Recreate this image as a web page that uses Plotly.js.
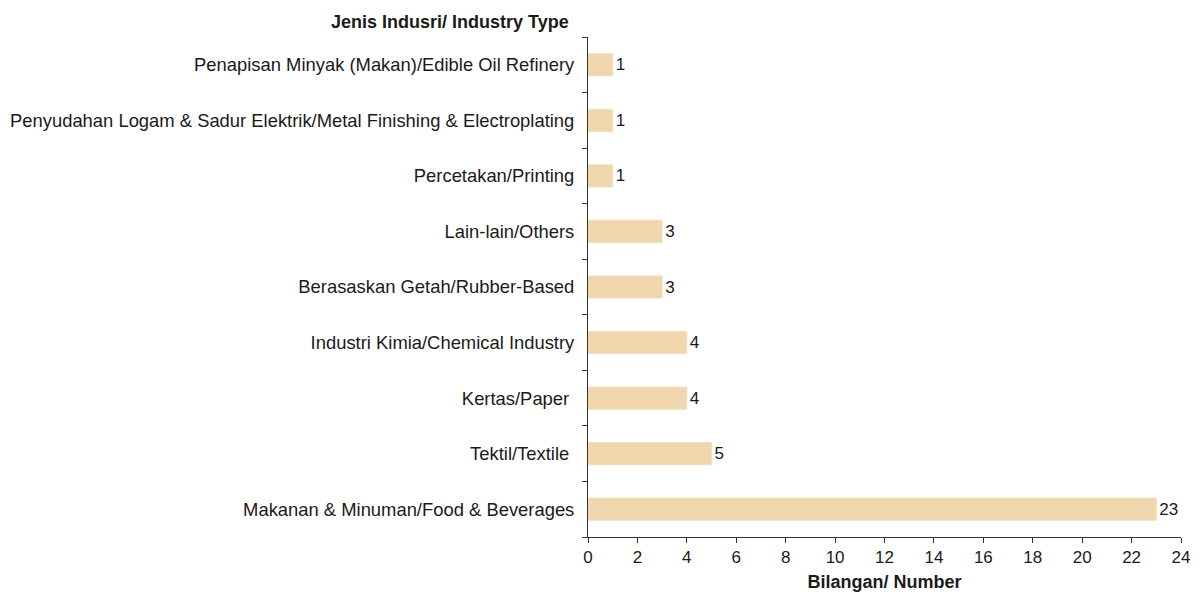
<!DOCTYPE html>
<html>
<head>
<meta charset="utf-8">
<script src="https://cdn.plot.ly/plotly-3.0.1.min.js"></script>
<style>
  html, body { margin: 0; padding: 0; background: #fff; }
  #chart { width: 1199px; height: 592px; }
</style>
</head>
<body>
<div id="chart"></div>
<script>
// categories, bottom to top
var industries = [
    'Makanan & Minuman/Food & Beverages',
    'Tektil/Textile\u00a0',
    'Kertas/Paper\u00a0',
    'Industri Kimia/Chemical Industry',
    'Berasaskan Getah/Rubber-Based',
    'Lain-lain/Others',
    'Percetakan/Printing',
    'Penyudahan Logam & Sadur Elektrik/Metal Finishing & Electroplating',
    'Penapisan Minyak (Makan)/Edible Oil Refinery'
];
var counts = [23, 5, 4, 4, 3, 3, 1, 1, 1];
var xTicks = [0, 2, 4, 6, 8, 10, 12, 14, 16, 18, 20, 22, 24];

var font = 'Liberation Sans, Arial, Helvetica, sans-serif';

var bars = {
    type: 'bar',
    orientation: 'h',
    x: counts,
    y: industries,
    width: 0.4,
    marker: {
        color: '#EFD6AC',
        line: { color: '#F3DFBF', width: 1 }
    },
    text: counts.map(String),
    textposition: 'outside',
    cliponaxis: false,
    textfont: { family: font, size: 17, color: '#1a1a1a' },
    hoverinfo: 'x+y'
};

var layout = {
    width: 1199,
    height: 592,
    margin: { l: 588, r: 18, t: 37, b: 55 },
    paper_bgcolor: '#fff',
    plot_bgcolor: '#fff',
    showlegend: false,
    font: { family: font, size: 17, color: '#1a1a1a' },
    xaxis: {
        range: [0, 24],
        tickvals: xTicks,
        ticks: 'outside',
        ticklen: 5,
        tickcolor: '#333',
        showline: true,
        linecolor: '#333',
        linewidth: 1,
        showgrid: false,
        zeroline: false,
        tickfont: { family: font, size: 17, color: '#1a1a1a' },
        title: {
            text: '<b>Bilangan/ Number</b>',
            font: { family: font, size: 18, color: '#1a1a1a' },
            standoff: 9
        }
    },
    yaxis: {
        type: 'category',
        categoryorder: 'array',
        categoryarray: industries,
        ticks: 'outside',
        tickson: 'boundaries',
        ticklen: 5,
        tickcolor: '#333',
        showline: true,
        linecolor: '#333',
        linewidth: 1,
        showgrid: false,
        ticklabelstandoff: 9,
        tickfont: { family: font, size: 18.4, color: '#1a1a1a' }
    },
    annotations: [{
        text: '<b>Jenis Indusri/ Industry Type</b>',
        xref: 'paper', yref: 'paper',
        x: -0.232, y: 1,
        xanchor: 'center', yanchor: 'bottom',
        yshift: 3,
        showarrow: false,
        font: { family: font, size: 18, color: '#1a1a1a' }
    }]
};

Plotly.newPlot('chart', [bars], layout, { displayModeBar: false, staticPlot: true });
</script>
</body>
</html>
